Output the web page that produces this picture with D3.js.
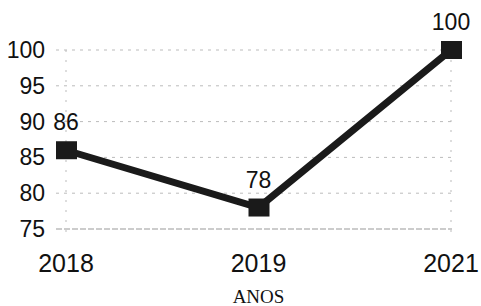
<!DOCTYPE html>
<html>
<head>
<meta charset="utf-8">
<script src="https://cdn.jsdelivr.net/npm/d3@7"></script>
<style>
  body { margin: 0; background: #fff; }
  svg { display: block; }
</style>
</head>
<body>
<div id="viz"></div>
<script>
// chart data
var years = ["2018", "2019", "2021"]
var values = [86, 78, 100]
var yTicks = [75, 80, 85, 90, 95, 100]
var xTitle = "ANOS"

var w = 481
var h = 306

var svg = d3.select("#viz")
  .append("svg")
  .attr("width", w)
  .attr("height", h)

var x = d3.scalePoint()
  .domain(years)
  .range([66, 451])

var y = d3.scaleLinear()
  .domain([75, 100])
  .range([229, 50])

// horizontal grid
svg.selectAll(".hgrid").data(yTicks)
  .enter()
  .append("line")
  .attr("class", "hgrid")
  .attr("x1", 56)
  .attr("x2", 452)
  .attr("y1", d => y(d))
  .attr("y2", d => y(d))
  .attr("stroke", d => d === 75 ? "#999" : "#bbb")
  .attr("stroke-width", 1)
  .attr("stroke-dasharray", d => d === 75 ? "6,2" : "3,5")

// faint vertical grid at ends
svg.selectAll(".vgrid").data([years[0], years[2]])
  .enter()
  .append("line")
  .attr("class", "vgrid")
  .attr("x1", d => x(d))
  .attr("x2", d => x(d))
  .attr("y1", 50)
  .attr("y2", 236)
  .attr("stroke", "#bbb")
  .attr("stroke-dasharray", "2,8")

// y tick labels
svg.selectAll(".ylab").data(yTicks)
  .enter()
  .append("text")
  .attr("class", "ylab")
  .attr("x", 45)
  .attr("y", d => y(d))
  .attr("dy", "0.35em")
  .attr("text-anchor", "end")
  .attr("font-family", "Liberation Sans, Arial, sans-serif")
  .attr("font-size", 23)
  .attr("fill", "#111")
  .text(d => d)

// x tick labels
svg.selectAll(".xlab").data(years)
  .enter()
  .append("text")
  .attr("class", "xlab")
  .attr("x", d => x(d))
  .attr("y", 272)
  .attr("text-anchor", "middle")
  .attr("font-family", "Liberation Sans, Arial, sans-serif")
  .attr("font-size", 25)
  .attr("fill", "#111")
  .text(d => d)

// axis title
svg.append("text")
  .attr("x", x("2019"))
  .attr("y", 303)
  .attr("text-anchor", "middle")
  .attr("font-family", "Liberation Serif, Times New Roman, serif")
  .attr("font-size", 19)
  .attr("fill", "#111")
  .text(xTitle)

var pts = years.map((d, i) => [x(d), y(values[i])])

// line
svg.append("path")
  .attr("d", d3.line()(pts))
  .attr("fill", "none")
  .attr("stroke", "#1a1a1a")
  .attr("stroke-width", 7)

// markers
svg.selectAll(".mark").data(pts)
  .enter()
  .append("rect")
  .attr("class", "mark")
  .attr("x", d => d[0] - 10)
  .attr("y", d => d[1] - 9)
  .attr("width", 21)
  .attr("height", 18)
  .attr("fill", "#1a1a1a")

// data labels
svg.selectAll(".dlab").data(pts)
  .enter()
  .append("text")
  .attr("class", "dlab")
  .attr("x", d => d[0])
  .attr("y", d => d[1] - 20)
  .attr("text-anchor", "middle")
  .attr("font-family", "Liberation Sans, Arial, sans-serif")
  .attr("font-size", 23)
  .attr("fill", "#111")
  .text((d, i) => values[i])
</script>
</body>
</html>
